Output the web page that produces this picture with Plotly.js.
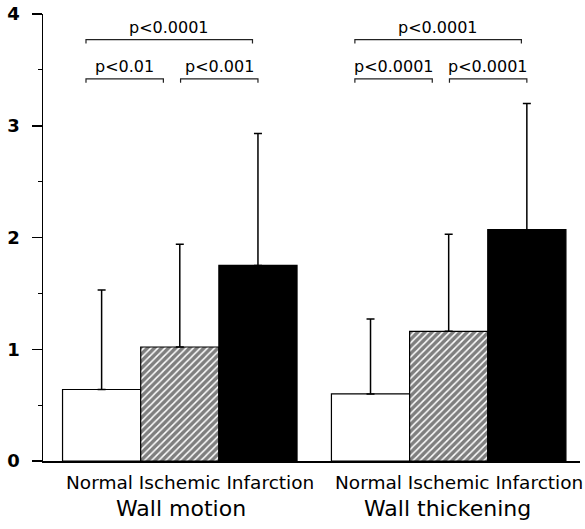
<!DOCTYPE html>
<html>
<head>
<meta charset="utf-8">
<script src="https://cdn.plot.ly/plotly-3.0.1.min.js"></script>
<style>html,body{margin:0;padding:0;background:#fff;}</style>
</head>
<body>
<div id="chart" style="width:585px;height:529px;"></div>
<script>
// ---- data ----
const groups = ['Wall motion', 'Wall thickening'];
const categories = ['Normal', 'Ischemic', 'Infarction'];
const wallMotionMean = [0.64, 1.02, 1.75];
const wallMotionSD = [0.89, 0.92, 1.18];
const wallThickeningMean = [0.60, 1.16, 2.07];
const wallThickeningSD = [0.67, 0.87, 1.13];
const yTickValues = [0, 1, 2, 3, 4];
// comparisons: [group index, category i, category j, label]
const comparisons = [
  [0, 0, 1, 'p<0.01'], [0, 1, 2, 'p<0.001'], [0, 0, 2, 'p<0.0001'],
  [1, 0, 1, 'p<0.0001'], [1, 1, 2, 'p<0.0001'], [1, 0, 2, 'p<0.0001']
];

// ---- layout helpers ----
const FONT = 'DejaVu Sans, Liberation Sans, Arial, sans-serif';
const groupGap = 0.44;
const groupStride = categories.length + groupGap;
const xPos = (g, c) => g * groupStride + c;
const means = [wallMotionMean, wallThickeningMean];
const sds = [wallMotionSD, wallThickeningSD];

const styles = [
  {color: '#ffffff', pattern: {shape: ''}},
  {color: '#ffffff', pattern: {shape: '/', size: 5, solidity: 0.7, fgcolor: '#000', bgcolor: '#fff', fillmode: 'overlay'}},
  {color: '#000000', pattern: {shape: ''}}
];

const traces = categories.map((cat, c) => ({
  type: 'bar',
  name: cat,
  x: groups.map((_, g) => xPos(g, c)),
  y: groups.map((_, g) => means[g][c]),
  width: 1,
  marker: {color: styles[c].color, pattern: styles[c].pattern, line: {color: '#000', width: 1.2}},
  error_y: {type: 'data', symmetric: false, array: groups.map((_, g) => sds[g][c]),
            arrayminus: groups.map(() => 0), color: '#000', thickness: 1.5, width: 4},
  hoverinfo: 'skip'
}));

const shapes = [], annotations = [];
const levelY = {1: 3.42, 2: 3.77};
const drop = 0.035;
comparisons.forEach(([g, i, j, label]) => {
  const span = j - i;
  const y = levelY[span];
  const x0 = i === 0 ? xPos(g, i) - 0.2 : xPos(g, i) + 0.01;
  const x1 = span === 2 ? xPos(g, j) - 0.07 : (j === 1 ? xPos(g, j) - 0.21 : xPos(g, j));
  shapes.push({type: 'path', xref: 'x', yref: 'y',
    path: `M ${x0} ${y - drop} L ${x0} ${y} L ${x1} ${y} L ${x1} ${y - drop}`,
    line: {color: '#222', width: 1.2}});
  annotations.push({xref: 'x', yref: 'y', x: (x0 + x1) / 2, y: y, yanchor: 'bottom', yshift: 1,
    text: label, showarrow: false, font: {family: FONT, size: 16, color: '#000'}});
});
groups.forEach((grp, g) => {
  // category names written as one line under each group
  annotations.push({xref: 'x', yref: 'paper', x: xPos(g, 1) + 0.13, y: -0.049, yanchor: 'middle',
    text: categories.join(' '), showarrow: false, font: {family: FONT, size: 18.5, color: '#000'}});
  annotations.push({xref: 'x', yref: 'paper', x: xPos(g, 1) - 0.03 * g + 0.02, y: -0.106, yanchor: 'middle',
    text: grp, showarrow: false, font: {family: FONT, size: 22, color: '#000'}});
});

const layout = {
  width: 585, height: 529,
  margin: {l: 43, r: 5, t: 14, b: 68},
  paper_bgcolor: '#fff', plot_bgcolor: '#fff',
  showlegend: false,
  barmode: 'overlay',
  font: {family: FONT, color: '#000'},
  xaxis: {range: [-0.75, 6.12], showline: true, linecolor: '#000', linewidth: 1.5,
    showgrid: false, zeroline: false, ticks: '', showticklabels: false},
  yaxis: {range: [0, 4], showline: true, linecolor: '#000', linewidth: 1.5, showgrid: false, zeroline: false,
    ticks: 'outside', ticklen: 10, tickwidth: 1.5, tickcolor: '#000', tickmode: 'array', tickvals: yTickValues,
    tickfont: {family: FONT, size: 18, color: '#000', weight: 'bold'}, ticklabelstandoff: 8,
    minor: {dtick: 0.5, ticks: 'outside', ticklen: 4, tickwidth: 1.2, tickcolor: '#000', showgrid: false}},
  shapes: shapes,
  annotations: annotations
};

Plotly.newPlot('chart', traces, layout, {displayModeBar: false, staticPlot: true});
</script>
</body>
</html>
